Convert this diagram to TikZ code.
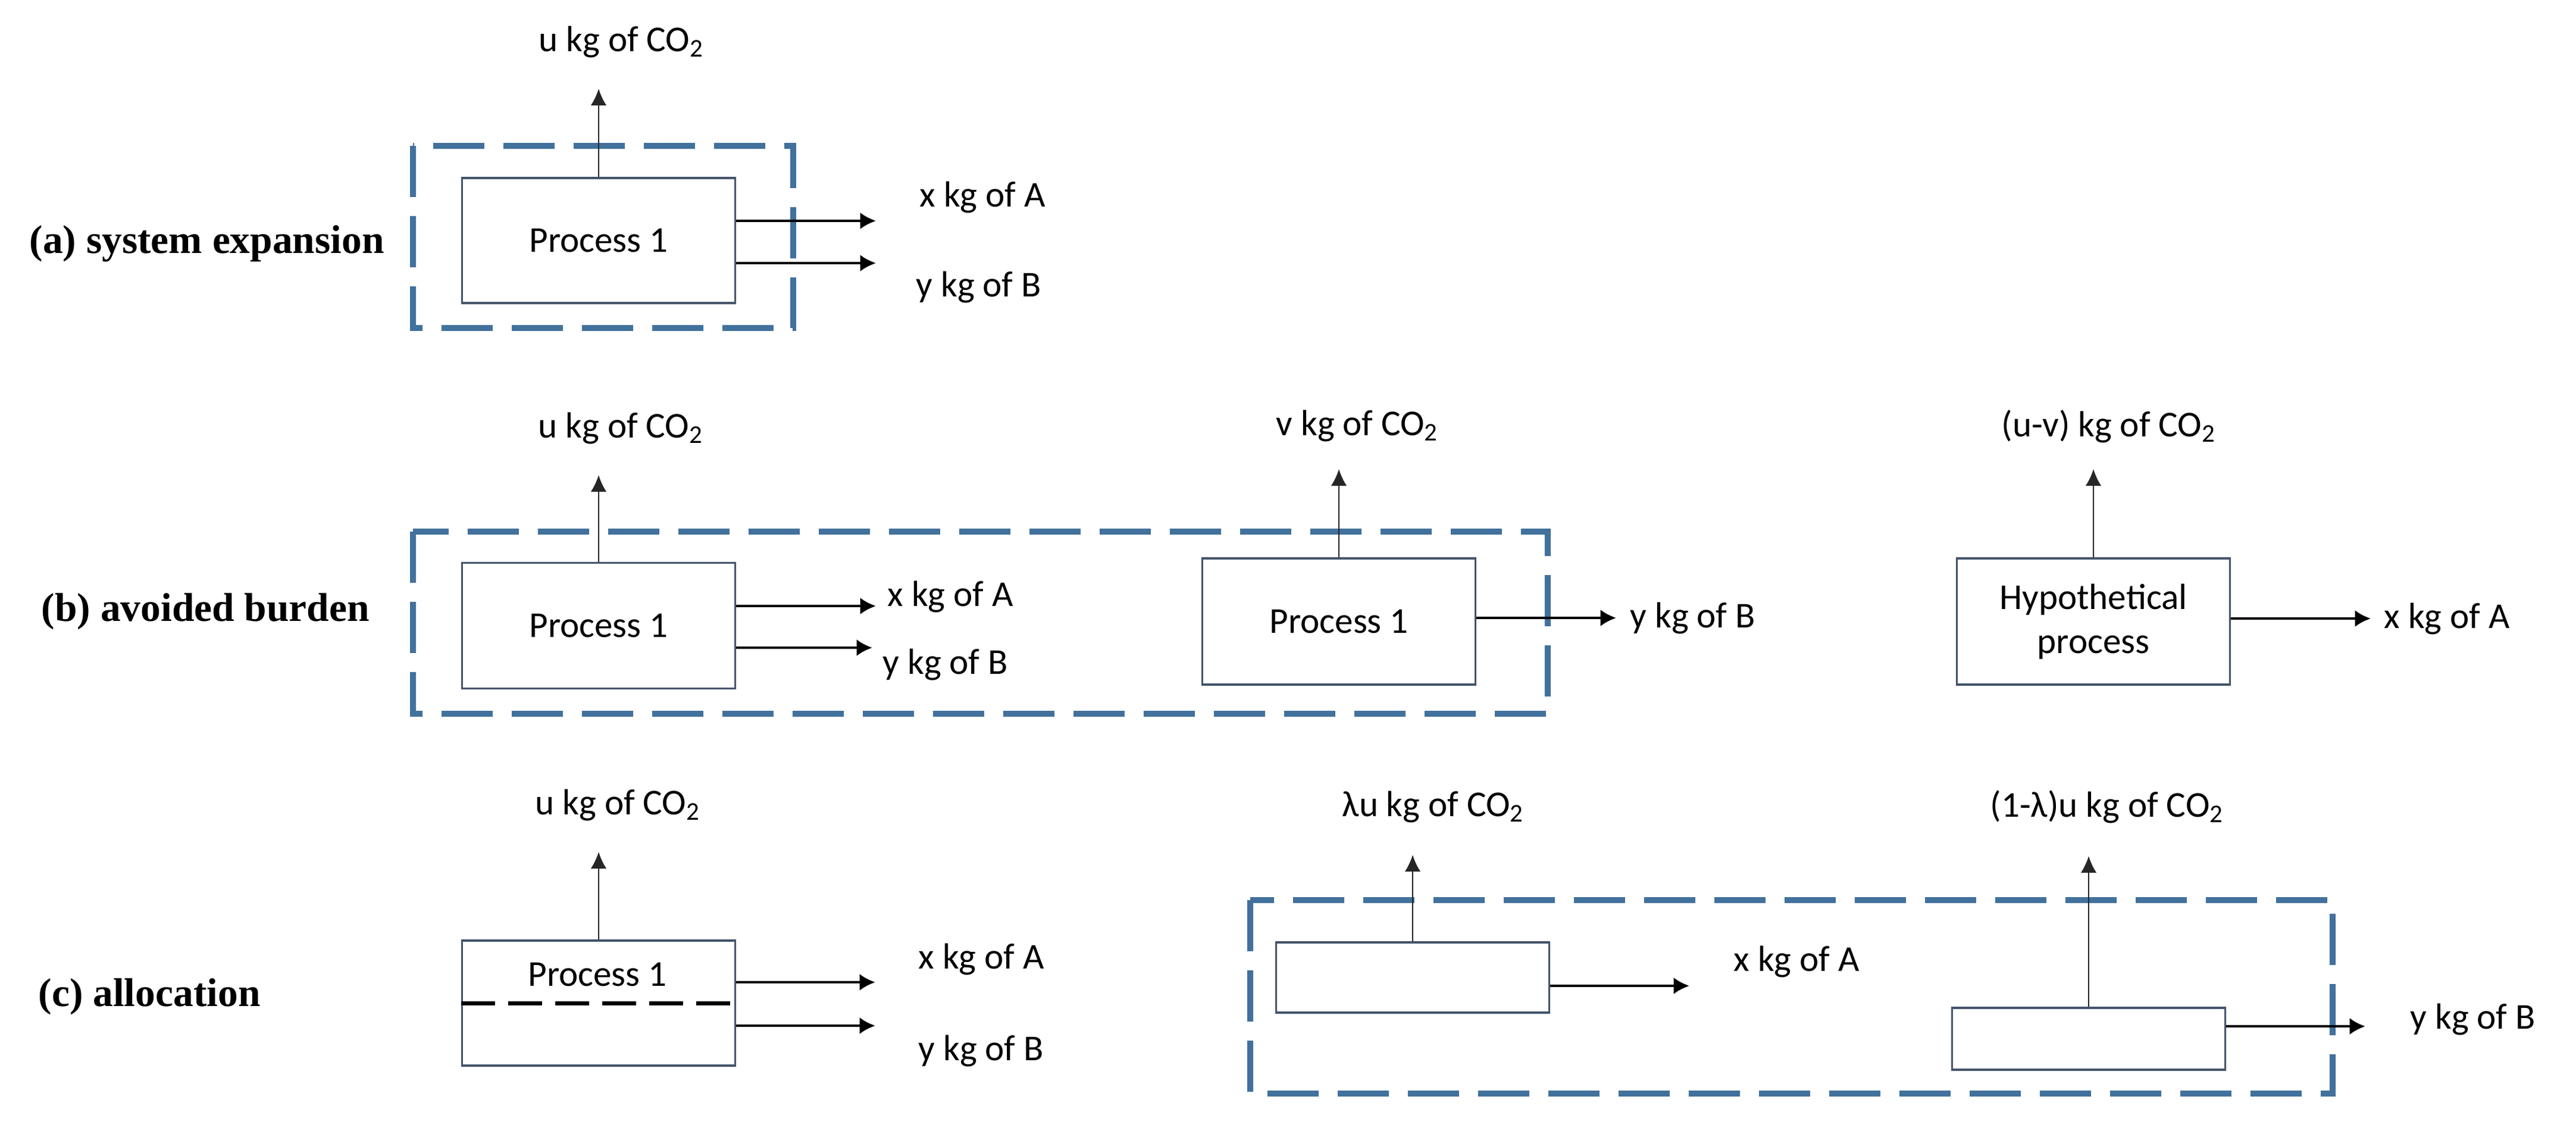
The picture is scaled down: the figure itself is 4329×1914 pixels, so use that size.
\documentclass[tikz,border=0pt]{standalone}
\usepackage{fontspec}
\setmainfont{Carlito}
\newfontfamily\casefont{Liberation Serif}
\usepackage{tikz}
\usetikzlibrary{positioning,arrows.meta}

\definecolor{framecol}{RGB}{65,113,156}
\definecolor{boxcol}{RGB}{68,84,106}

\begin{document}
\begin{tikzpicture}[x=0.1mm, y=-0.1mm,
    every node/.style={font=\fontsize{17.4}{21}\selectfont},
    frame/.style={draw=framecol, line width=2.85pt, dash pattern=on 8.6mm off 3.2mm},
    proc/.style={rectangle, draw=boxcol, line width=1pt, fill=white, minimum width=45.9mm, minimum height=21mm, inner sep=0pt, align=center}]
    \tikzstyle{flow}=[-{Latex[length=7.5pt,width=8pt]}, line width=1.2pt]
    \tikzstyle{emit}=[-{Latex[length=8pt,width=7.6pt]}, line width=0.8pt, draw=black!85]
    \tikzstyle{divider}=[line width=2pt, dash pattern=on 5.7mm off 2.2mm]
    \tikzstyle{qty}=[anchor=base west, inner sep=0pt]
    \tikzstyle{case}=[anchor=base west, inner sep=0pt, font=\fontsize{19.2}{23}\selectfont\casefont\bfseries]

      \fill[white] (0,0) rectangle (4329,1914);
      \useasboundingbox (0,0) rectangle (4329,1914);

      % (a) system expansion
      \draw[frame] (694,245) rectangle (1333,551);
      \node[proc] (p1a) at (1006,404) {Process 1};
      \coordinate (ua) at (1006,149);
      \coordinate (xa) at (1472,371);
      \coordinate (ya) at (1472,442);
      \node[case] (casea) at (49,425) {(a) system expansion};
      \node[qty] (ulaba) at (905,86) {u kg of CO\textsubscript{2}};
      \node[qty] (xlaba) at (1545,347) {x kg of A};
      \node[qty] (ylaba) at (1539,498) {y kg of B};

      % (b) avoided burden
      \draw[frame] (694,893) rectangle (2601,1199);
      \node[proc, minimum height=21.1mm] (p1b) at (1006,1051) {Process 1};
      \node[proc, minimum height=21.2mm] (p2b) at (2250,1044) {Process 1};
      \node[proc, minimum height=21.2mm] (hyp) at (3518,1044) {Hypothetical\\process};
      \coordinate (ub) at (1006,798);
      \coordinate (xb) at (1472,1018);
      \coordinate (yb) at (1466,1088);
      \coordinate (vb) at (2250,788);
      \coordinate (yb2) at (2716,1038);
      \coordinate (uvb) at (3518,788);
      \coordinate (xh) at (3984,1039);
      \node[case] (caseb) at (69,1043) {(b) avoided burden};
      \node[qty] (ulabb) at (904,735) {u kg of CO\textsubscript{2}};
      \node[qty] (vlabb) at (2144,731) {v kg of CO\textsubscript{2}};
      \node[qty] (uvlabb) at (3363,733) {(u-v) kg of CO\textsubscript{2}};
      \node[qty] (xlabb) at (1491,1018) {x kg of A};
      \node[qty] (ylabb) at (1483,1132) {y kg of B};
      \node[qty] (ylabb2) at (2739,1054) {y kg of B};
      \node[qty] (xlabh) at (4006,1055) {x kg of A};

      % (c) allocation
      \draw[frame] (2101,1512) rectangle (3920,1837);
      \node[proc] (p1c) at (1006,1685) {};
      \node[inner sep=0pt, anchor=base] (p1ctxt) at (1004,1656) {Process 1};
      \draw[divider] (p1c.west) -- (p1c.east);
      \node[proc, minimum height=11.8mm] (lam) at (2374,1642) {};
      \node[proc, minimum height=10.4mm] (one) at (3510,1745) {};
      \coordinate (uc) at (1006,1431);
      \coordinate (xc) at (1471,1650);
      \coordinate (yc) at (1471,1723);
      \coordinate (lamu) at (2374,1436);
      \coordinate (xl) at (2839,1656);
      \coordinate (oneu) at (3510,1438);
      \coordinate (yo) at (3975,1724);
      \node[case] (casec) at (64,1690) {(c) allocation};
      \node[qty] (ulabc) at (899,1368) {u kg of CO\textsubscript{2}};
      \node[qty] (xlabc) at (1543,1627) {x kg of A};
      \node[qty] (ylabc) at (1543,1781) {y kg of B};
      \node[qty] (lamlab) at (2255,1371) {λu kg of CO\textsubscript{2}};
      \node[qty] (onelab) at (3344,1372) {(1-λ)u kg of CO\textsubscript{2}};
      \node[qty] (xlabl) at (2913,1631) {x kg of A};
      \node[qty] (ylabo) at (4050,1728) {y kg of B};

      \path
        (p1a) edge [emit] (ua)
        (p1a.east |- xa) edge [flow] (xa)
        (p1a.east |- ya) edge [flow] (ya)
        (p1b) edge [emit] (ub)
        (p1b.east |- xb) edge [flow] (xb)
        (p1b.east |- yb) edge [flow] (yb)
        (p2b) edge [emit] (vb)
        (p2b.east |- yb2) edge [flow] (yb2)
        (hyp) edge [emit] (uvb)
        (hyp.east |- xh) edge [flow] (xh)
        (p1c) edge [emit] (uc)
        (p1c.east |- xc) edge [flow] (xc)
        (p1c.east |- yc) edge [flow] (yc)
        (lam) edge [emit] (lamu)
        (lam.east |- xl) edge [flow] (xl)
        (one) edge [emit] (oneu)
        (one.east |- yo) edge [flow] (yo);
    \end{tikzpicture}
\end{document}
